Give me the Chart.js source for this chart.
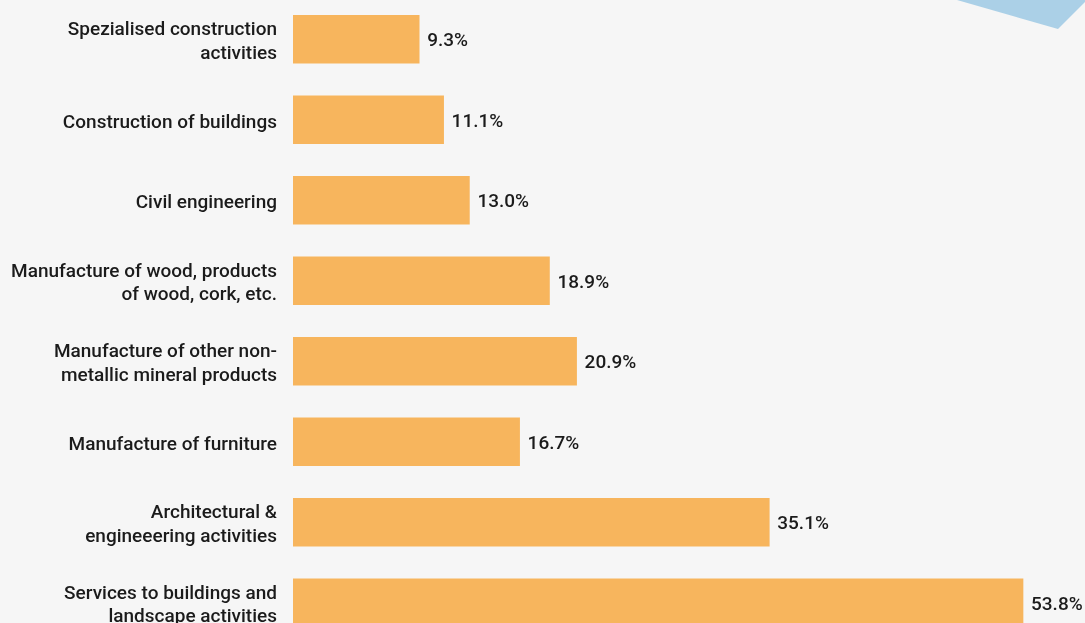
<!DOCTYPE html>
<html lang="en">
<head>
    <meta charset="UTF-8">
    <title>Share by activity</title>
    <script src="https://cdn.jsdelivr.net/npm/chart.js"></script>
    <style>
        html, body {
            margin: 0;
            padding: 0;
            width: 1085px;
            height: 623px;
            overflow: hidden;
            background-color: #f6f6f6;
        }
        .corner-shape {
            position: absolute;
            left: 0;
            top: 0;
            width: 1085px;
            height: 40px;
            background: #abd0e7;
            clip-path: polygon(957px 0, 1085px 0, 1085px 2px, 1058px 29px);
        }
        .chart-box {
            position: absolute;
            left: 0;
            top: -1px;
            width: 1085px;
            height: 644px;
        }
    </style>
</head>
<body>
    <div class="corner-shape"></div>
    <div class="chart-box">
        <canvas id="barChart"></canvas>
    </div>

    <script>
        // categories, top to bottom
        const categories = [
            ['Spezialised construction', 'activities'],
            ['Construction of buildings'],
            ['Civil engineering'],
            ['Manufacture of wood, products', 'of wood, cork, etc.'],
            ['Manufacture of other non-', 'metallic mineral products'],
            ['Manufacture of furniture'],
            ['Architectural &', 'engineeering activities'],
            ['Services to buildings and', 'landscape activities']
        ];
        const shares = [9.3, 11.1, 13.0, 18.9, 20.9, 16.7, 35.1, 53.8];

        const fontFamily = 'Roboto, "Noto Sans", sans-serif';

        // value labels after the end of each bar
        const valueLabels = {
            id: 'valueLabels',
            afterDatasetsDraw(chart) {
                const ctx = chart.ctx;
                const meta = chart.getDatasetMeta(0);
                ctx.save();
                ctx.font = '500 19px ' + fontFamily;
                ctx.fillStyle = '#1b1b1b';
                ctx.textAlign = 'left';
                ctx.textBaseline = 'middle';
                meta.data.forEach((bar, i) => {
                    ctx.fillText(shares[i].toFixed(1) + '%', bar.x + 8, bar.y + 2);
                });
                ctx.restore();
            }
        };

        const ctx = document.getElementById('barChart').getContext('2d');
        new Chart(ctx, {
            type: 'bar',
            data: {
                labels: categories,
                datasets: [{
                    data: shares,
                    backgroundColor: '#f7b55d',
                    borderWidth: 0,
                    barThickness: 48
                }]
            },
            options: {
                indexAxis: 'y',
                responsive: true,
                maintainAspectRatio: false,
                animation: false,
                layout: { padding: { left: 0, right: 5, top: 0, bottom: 0 } },
                plugins: {
                    legend: { display: false },
                    tooltip: { enabled: false }
                },
                scales: {
                    x: {
                        display: false,
                        min: 0,
                        max: 58
                    },
                    y: {
                        afterFit(scale) {
                            scale.width = 293;
                            scale.paddingTop = 0;
                            scale.paddingBottom = 0;
                        },
                        grid: { display: false, drawTicks: false },
                        border: { display: false },
                        ticks: {
                            padding: 16,
                            labelOffset: 3,
                            color: '#1b1b1b',
                            font: { family: fontFamily, size: 19, weight: '500', lineHeight: 1.26 }
                        }
                    }
                }
            },
            plugins: [valueLabels]
        });
    </script>
</body>
</html>
